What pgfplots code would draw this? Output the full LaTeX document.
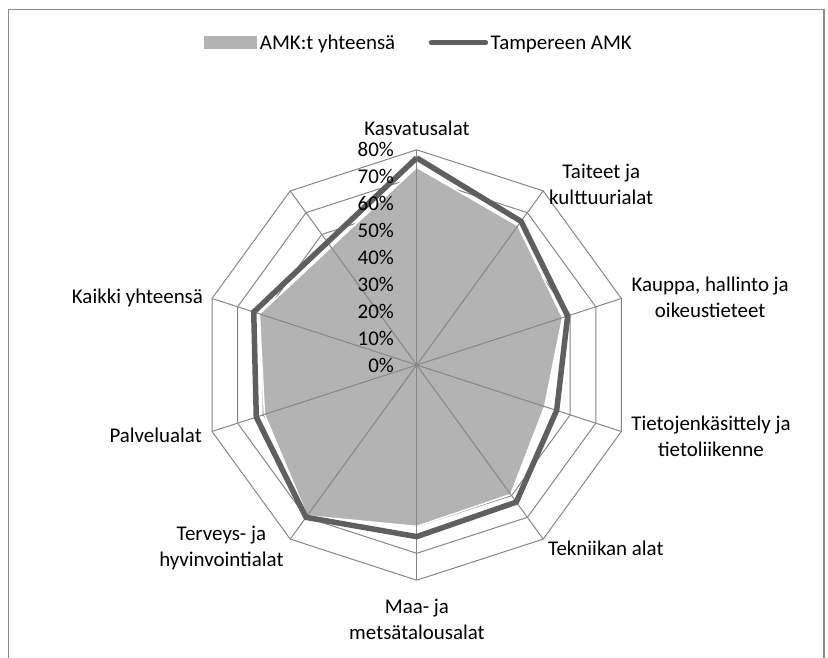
\documentclass[border=0pt]{standalone}
\usepackage{pgfplots}
\pgfplotsset{compat=1.18}
\usepackage{fontspec}
\setmainfont{Carlito}
\definecolor{fillc}{RGB}{179,179,179}
\definecolor{linec}{RGB}{95,95,95}
\definecolor{gridc}{RGB}{134,134,134}
\definecolor{framec}{RGB}{140,140,140}
\begin{document}
\begin{tikzpicture}
\path[use as bounding box] (0,0) rectangle (828bp,658bp);
\draw[framec, line width=1.8bp] (8.5bp,-2bp) -- (8.5bp,648.5bp) -- (824bp,648.5bp) -- (824bp,-2bp);
\begin{axis}[
  anchor=origin, at={(416.7bp,293bp)},
  x=2.69bp, y=2.69bp,
  xmin=-150, xmax=150, ymin=-110, ymax=125,
  hide axis, clip=false,
  font=\fontsize{21}{26}\selectfont,
  legend columns=2,
  legend style={at={(rel axis cs:0.503,0.975)}, anchor=center, draw=none, fill=none,
    font=\fontsize{21}{26}\selectfont, inner sep=0pt,
    /tikz/every even column/.append style={column sep=31bp},
    nodes={inner sep=2.5bp, text height=14bp, text depth=4bp}},
]
% rings
\pgfplotsinvokeforeach{10,20,30,40,50,60,70,80}{
  \addplot[gridc, line width=1bp, data cs=polar, forget plot] coordinates {(90,#1)(54,#1)(18,#1)(-18,#1)(-54,#1)(-90,#1)(-126,#1)(-162,#1)(162,#1)(126,#1)(90,#1)};
}
% AMK:t yhteensä (area)
\addplot[fill=fillc, draw=white, line width=1.5bp, data cs=polar,
  legend image code/.code={\fill[fillc] (-2bp,-4bp) rectangle (50bp,8bp);}]
  coordinates {(90,73.5)(54,64)(18,57)(-18,50)(-54,59.5)(-90,60)(-126,69.3)(-162,59.5)(162,61.5)(90,73.5)};
\addlegendentry{AMK:t yhteensä}
% spokes
\pgfplotsinvokeforeach{90,54,18,-18,-54,-90,-126,-162,162,126}{
  \addplot[gridc, line width=1bp, data cs=polar, forget plot] coordinates {(0,0)(#1,80)};
}
% Tampereen AMK (line)
\addplot[linec, line width=5.5bp, line join=miter, data cs=polar,
  legend image code/.code={\draw[linec, line width=5.5bp, line cap=round] (2bp,2bp) -- (56bp,2bp);}]
  coordinates {(90,77)(54,66)(18,59)(-18,54.7)(-54,63)(-90,63.8)(-126,70)(-162,62.7)(162,63.7)(90,77)};
\addlegendentry{Tampereen AMK}
% radial tick labels
\pgfplotsinvokeforeach{0,10,20,30,40,50,60,70,80}{
  \node[anchor=east, inner sep=0pt] at (axis cs:-8.4,#1) {#1\%};
}
% category labels
\node[align=center] at (axis cs:0.1,88.1) {Kasvatusalat};
\node[align=center] at (axis cs:68.6,67.3) {Taiteet ja\\kulttuurialat};
\node[align=center] at (axis cs:109.1,25.3) {Kauppa, hallinto ja\\oikeustieteet};
\node[align=center] at (axis cs:109.4,-26.4) {Tietojenkäsittely ja\\tietoliikenne};
\node[anchor=west, inner sep=0pt] at (axis cs:48.8,-68) {Tekniikan alat};
\node[align=center] at (axis cs:0.1,-94.4) {Maa- ja\\metsätalousalat};
\node[align=center] at (axis cs:-72.6,-68) {Terveys- ja\\hyvinvointialat};
\node[anchor=east, inner sep=0pt] at (axis cs:-79.8,-26) {Palvelualat};
\node[anchor=east, inner sep=0pt] at (axis cs:-79.4,24.9) {Kaikki yhteensä};
\end{axis}
\end{tikzpicture}
\end{document}
